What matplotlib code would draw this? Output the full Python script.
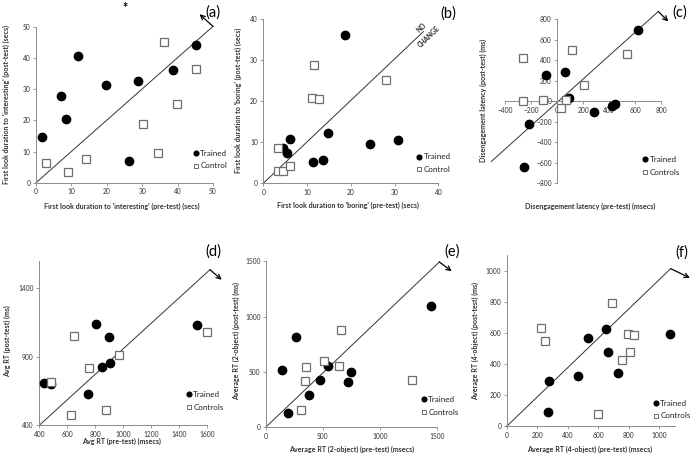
import matplotlib
matplotlib.use("Agg")
import matplotlib.pyplot as plt
from matplotlib.lines import Line2D

plt.rcParams['font.family'] = ['Lato', 'DejaVu Sans']

W, H = 696, 458

# ---------------- data ----------------
a_tr_x = [1.8, 7.2, 8.5, 12.0, 19.9, 28.7, 26.3, 38.7, 45.2]
a_tr_y = [14.7, 27.7, 20.5, 40.8, 31.4, 32.8, 7.0, 36.1, 44.3]
a_co_x = [2.8, 8.9, 14.1, 30.1, 34.4, 36.2, 39.7, 45.2]
a_co_y = [6.4, 3.4, 7.7, 18.7, 9.5, 45.3, 25.2, 36.6]

b_tr_x = [18.7, 4.4, 5.5, 6.1, 11.4, 13.6, 14.9, 24.4, 30.7]
b_tr_y = [36.2, 8.5, 7.3, 10.9, 5.1, 5.7, 12.2, 9.6, 10.6]
b_co_x = [3.4, 3.3, 4.6, 6.2, 11.6, 11.2, 12.7, 28.0]
b_co_y = [8.6, 3.1, 3.1, 4.2, 28.8, 20.9, 20.5, 25.2]

c_tr_x = [620, -82, 62, 92, -215, -251, 282, 423, 441]
c_tr_y = [697, 252, 285, 34, -220, -638, -105, -49, -23]
c_co_x = [-264, -262, -108, 31, 67, 118, 208, 538]
c_co_y = [425, 2, 15, -70, 8, 496, 158, 457]

d_tr_x = [434, 481, 750, 846, 905, 803, 898, 1524]
d_tr_y = [710, 701, 628, 822, 856, 1136, 1043, 1131]
d_co_x = [481, 629, 648, 757, 876, 969, 1596]
d_co_y = [713, 475, 1048, 815, 509, 914, 1080]

e_tr_x = [138, 196, 261, 381, 475, 548, 718, 744, 1450]
e_tr_y = [513, 124, 818, 293, 423, 549, 407, 498, 1099]
e_co_x = [305, 346, 352, 513, 642, 659, 1286]
e_co_y = [157, 414, 543, 595, 555, 881, 426]

f_tr_x = [269, 279, 467, 533, 651, 664, 729, 1070]
f_tr_y = [90, 289, 323, 568, 625, 478, 343, 593]
f_co_x = [223, 251, 598, 690, 756, 795, 808, 835]
f_co_y = [632, 546, 79, 793, 426, 593, 478, 587]

fig = plt.figure(figsize=(W / 100, H / 100), dpi=100)

SPINE = '#8c8c8c'
TXT = '#333333'
FS_TICK = 4.8
FS_LAB = 5.1
FS_LEG = 5.8


def make_ax(x0, x1, yt, yb, xlim, ylim, xticks, yticks, center=False):
    ax = fig.add_axes([x0 / W, 1 - yb / H, (x1 - x0) / W, (yb - yt) / H])
    ax.set_xlim(*xlim)
    ax.set_ylim(*ylim)
    ax.set_xticks(xticks)
    ax.set_yticks(yticks)
    for s in ['top', 'right']:
        ax.spines[s].set_visible(False)
    for s in ['left', 'bottom']:
        ax.spines[s].set_color(SPINE)
        ax.spines[s].set_linewidth(0.7)
    if center:
        ax.spines['left'].set_position(('data', 0))
        ax.spines['bottom'].set_position(('data', 0))
    ax.tick_params(axis='both', labelsize=FS_TICK, colors=SPINE, labelcolor=TXT,
                   length=2, width=0.6, pad=2)
    ax.patch.set_alpha(0)
    return ax


def scatter(ax, tx, ty, cx, cy, labels, leg_xy):
    ax.plot(tx, ty, 'o', ms=6.0, color='black', mec='black', clip_on=False, zorder=3)
    ax.plot(cx, cy, 's', ms=5.4, mfc='white', mec='#6e6e6e', mew=0.9, clip_on=False, zorder=3)
    h1 = Line2D([], [], marker='o', ls='', ms=3.4, color='black')
    h2 = Line2D([], [], marker='s', ls='', ms=3.5, mfc='white', mec='#555555', mew=0.6)
    lx = (leg_xy[0] - ax_px[ax][0]) / (ax_px[ax][1] - ax_px[ax][0])
    ly = (ax_px[ax][3] - leg_xy[1]) / (ax_px[ax][3] - ax_px[ax][2])
    leg = ax.legend([h1, h2], labels, loc='center left', bbox_to_anchor=(lx, ly),
                    frameon=False, fontsize=FS_LEG, handlelength=0.7, handletextpad=0.2,
                    labelspacing=0.7, borderpad=0, borderaxespad=0)
    for t in leg.get_texts():
        t.set_color('#222222')


def diag(ax, p0, p1, arrow_to=None):
    ax.plot([p0[0], p1[0]], [p0[1], p1[1]], color='#333333', lw=0.7, clip_on=False, zorder=2)
    if arrow_to is not None:
        ax.annotate('', xy=arrow_to, xytext=p1,
                    arrowprops=dict(arrowstyle='->', lw=0.9, color='black',
                                    shrinkA=0, shrinkB=0, mutation_scale=8),
                    annotation_clip=False)


def ftext(x, y, s, **kw):
    fig.text(x / W, 1 - y / H, s, **kw)


ax_px = {}

# (a)
pa = (36, 213, 27, 182.7)
ax = make_ax(*pa, (0, 50), (0, 50), range(0, 51, 10), range(0, 51, 10))
ax_px[ax] = pa
diag(ax, (0, 0), (50, 50.2), (46.2, 54.1))
scatter(ax, a_tr_x, a_tr_y, a_co_x, a_co_y, ['Trained', 'Control'], (193, 159.5))
ftext(122, 206.7, "First look duration to 'interesting' (pre-test) (secs)", ha='center', va='center',
      fontsize=FS_LAB, color=TXT, fontweight='bold')
ftext(6, 105, "First look duration to 'interesting' (post-test) (secs)", ha='center', va='center',
      fontsize=FS_LAB, color=TXT, fontweight='bold', rotation=90)
ftext(213.3, 12.7, '(a)', ha='center', va='center', fontsize=10.5)
ftext(125, 8, '*', ha='center', va='center', fontsize=9, fontweight='bold')

# (b)
pb = (263.3, 438.3, 19.3, 183.3)
ax = make_ax(*pb, (0, 40), (0, 40), range(0, 41, 10), range(0, 41, 10))
ax_px[ax] = pb
diag(ax, (0, 0), (36.6, 37.0))
ftext(423.5, 30.5, 'NO', rotation=44, ha='center', va='bottom', fontsize=4.8,
      color='#222222', fontweight='bold', rotation_mode='anchor')
ftext(426.5, 34.5, 'CHANGE', rotation=44, ha='center', va='top', fontsize=4.8,
      color='#222222', fontweight='bold', rotation_mode='anchor')
scatter(ax, b_tr_x, b_tr_y, b_co_x, b_co_y, ['Trained', 'Control'], (416.5, 163.3))
ftext(348, 205, "First look duration to 'boring' (pre-test) (secs)", ha='center', va='center',
      fontsize=FS_LAB, color=TXT, fontweight='bold')
ftext(238.3, 100, "First look duration to 'boring' (post-test) (secs)", ha='center', va='center',
      fontsize=FS_LAB, color=TXT, fontweight='bold', rotation=90)
ftext(448.3, 13.3, '(b)', ha='center', va='center', fontsize=10.5)

# (c)
pc = (505, 661.3, 19.3, 183.3)
ax = make_ax(*pc, (-400, 800), (-800, 800), range(-400, 801, 200), range(-800, 801, 200), center=True)
ax_px[ax] = pc
diag(ax, (-505, -587), (777, 876), (854, 779))
scatter(ax, c_tr_x, c_tr_y, c_co_x, c_co_y, ['Trained', 'Controls'], (642.5, 166))
ftext(590, 206.7, "Disengagement latency (pre-test) (msecs)", ha='center', va='center',
      fontsize=FS_LAB, color=TXT, fontweight='bold')
ftext(483.3, 100, "Disengagement latency (post-test) (ms)", ha='center', va='center',
      fontsize=FS_LAB, color=TXT, fontweight='bold', rotation=90)
ftext(680, 12.7, '(c)', ha='center', va='center', fontsize=10.5)

# (d)
pd_ = (39.3, 207.3, 260.5, 425.3)
ax = make_ax(*pd_, (400, 1600), (400, 1600), range(400, 1601, 200), [400, 900, 1400])
ax_px[ax] = pd_
diag(ax, (400, 400), (1619, 1533), (1703, 1460))
scatter(ax, d_tr_x, d_tr_y, d_co_x, d_co_y, ['Trained', 'Controls'], (186, 401))
ftext(121.7, 441.3, "Avg RT (pre-test) (msecs)", ha='center', va='center',
      fontsize=FS_LAB, color=TXT, fontweight='bold')
ftext(7.3, 341, "Avg RT (post-test) (ms)", ha='center', va='center',
      fontsize=FS_LAB, color=TXT, fontweight='bold', rotation=90)
ftext(213.3, 251.3, '(d)', ha='center', va='center', fontsize=10.5)

# (e)
pe = (266, 436.7, 261.3, 427)
ax = make_ax(*pe, (0, 1500), (0, 1500), range(0, 1501, 500), range(0, 1501, 500))
ax_px[ax] = pe
diag(ax, (0, 0), (1523, 1494), (1632, 1410))
scatter(ax, e_tr_x, e_tr_y, e_co_x, e_co_y, ['Trained', 'Controls'], (421, 406))
ftext(351.7, 449, "Average RT (2-object) (pre-test) (msecs)", ha='center', va='center',
      fontsize=FS_LAB, color=TXT, fontweight='bold')
ftext(236, 341, "Average RT (2-object) (post-test) (ms)", ha='center', va='center',
      fontsize=FS_LAB, color=TXT, fontweight='bold', rotation=90)
ftext(451.7, 252, '(e)', ha='center', va='center', fontsize=10.5)

# (f)
pf = (506.7, 674.5, 255.1, 426.3)
ax = make_ax(*pf, (0, 1100), (0, 1100), range(0, 1001, 200), range(0, 1001, 200))
ax_px[ax] = pf
diag(ax, (0, 0), (1075, 1013), (1201, 953))
scatter(ax, f_tr_x, f_tr_y, f_co_x, f_co_y, ['Trained', 'Controls'], (653, 409.5))
ftext(590, 449.7, "Average RT (4-object) (pre-test) (msecs)", ha='center', va='center',
      fontsize=FS_LAB, color=TXT, fontweight='bold')
ftext(475, 341, "Average RT (4-object) (post-test) (ms)", ha='center', va='center',
      fontsize=FS_LAB, color=TXT, fontweight='bold', rotation=90)
ftext(681.7, 253, '(f)', ha='center', va='center', fontsize=10.5)

fig.savefig('out.png', dpi=100)
